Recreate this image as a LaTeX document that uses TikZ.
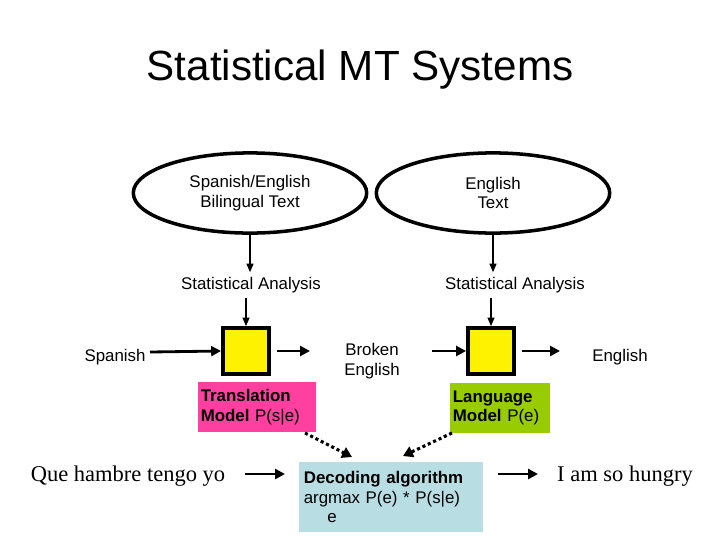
\documentclass[tikz,border=0pt]{standalone}
\usepackage{fontspec}
\setmainfont{Liberation Sans}
\newfontfamily\timesfont{Liberation Serif}
\usetikzlibrary{arrows.meta, shapes.geometric}
\definecolor{modelpink}{RGB}{255,64,160}
\definecolor{modelgreen}{RGB}{153,204,0}
\definecolor{decodeblue}{RGB}{184,222,228}
\tikzset{
  txt/.style={font=\fontsize{12}{14}\selectfont, align=center},
  flow/.style={-{Triangle[length=7pt,width=7pt]}, line width=2pt},
  down/.style={-{Triangle[length=6pt,width=5pt]}, line width=0.8pt},
  dots/.style={-{Triangle[length=7pt,width=8pt]}, line width=2.2pt, dotted},
  corpus/.style={draw, ellipse, line width=2.5pt, minimum width=166pt, minimum height=57pt},
  unit/.style={draw, fill=yellow, line width=2.5pt, minimum size=33pt},
  model/.style={txt, align=left, inner sep=2pt}
}
\begin{document}
\begin{tikzpicture}[x=0.025cm, y=-0.025cm]
  \useasboundingbox (0,0) rectangle (720,540);
  \node (title) at (360,70) {\fontsize{30}{34}\selectfont Statistical MT Systems};
  % corpora
  \node (bitext) [corpus] at (250,193) {};
  \node [txt] at (250,193) {Spanish/English\\Bilingual Text};
  \node (entext) [corpus] at (493,193) {};
  \node [txt] at (493,193) {English\\Text};
  \node (anaL) [txt] at (251,285) {Statistical Analysis};
  \node (anaR) [txt] at (515,285) {Statistical Analysis};
  % models
  \node (tm) [unit] at (246,351) {};
  \node (lm) [unit] at (491,351) {};
  \node (es) [txt] at (115,357) {Spanish};
  \node (broken) [txt] at (372,361) {Broken\\English};
  \node (en) [txt] at (620,357) {English};
  \node (tmbox) [model, fill=modelpink, minimum width=84pt, minimum height=35pt, text width=80pt] at (257,407)
    {\textbf{Translation}\\\textbf{Model} P(s|e)};
  \node (lmbox) [model, fill=modelgreen, minimum width=71pt, minimum height=35pt, text width=67pt] at (500,408)
    {\textbf{Language}\\\textbf{Model} P(e)};
  % decoding
  \node (dec) [txt, align=left, fill=decodeblue, minimum width=130pt, minimum height=50pt, text width=124pt] at (391,497)
    {\textbf{Decoding algorithm}\\argmax P(e) * P(s|e)\\\hspace{1.4em}e};
  \node (que) at (128,476) {\timesfont\fontsize{16}{18}\selectfont Que hambre tengo yo};
  \node (hungry) at (625,476) {\timesfont\fontsize{16}{18}\selectfont I am so hungry};
  \draw [down] (bitext.south) -- (anaL.north -| bitext.south);
  \draw [down] (entext.south) -- (anaR.north -| entext.south);
  \draw [down] (anaL.south -| tm.north) -- (tm.north);
  \draw [down] (anaR.south -| lm.north) -- (lm.north);
  \draw [flow] (150,352) -- (tm.west);
  \draw [flow] (tm.east) ++(6,0) -- (310,351);
  \draw [flow] (432,351) -- (lm.west);
  \draw [flow] (lm.east) ++(6,0) -- (560,351);
  \draw [dots] (305,433) -- (352,457);
  \draw [dots] (452,433) -- (403,456);
  \draw [flow] (245,474) -- (285,474);
  \draw [flow] (498,474) -- (538,474);
\end{tikzpicture}
\end{document}
